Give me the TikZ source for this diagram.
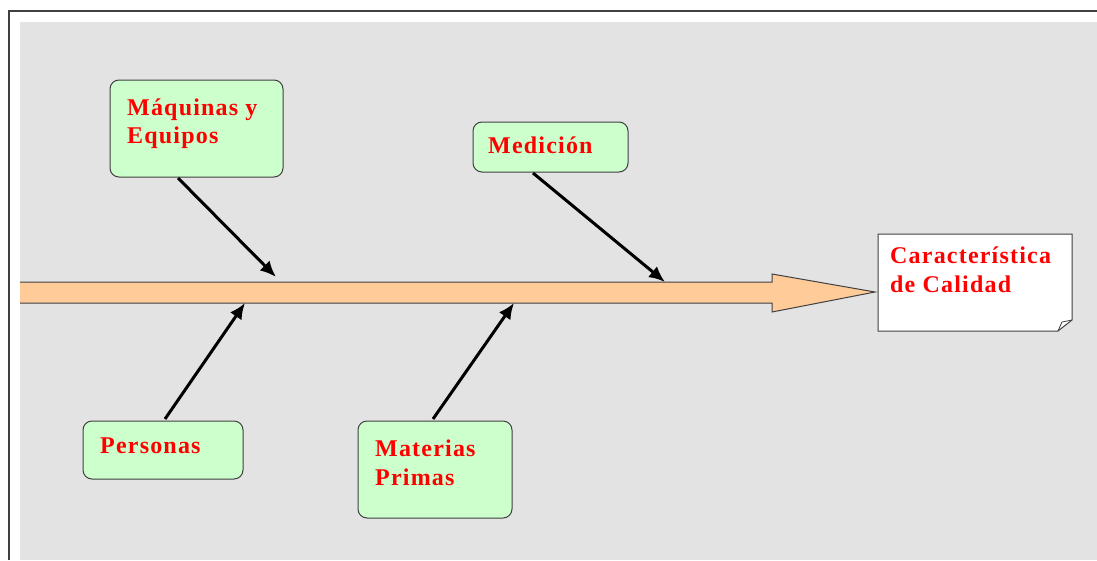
\documentclass[tikz,border=0pt]{standalone}
\usepackage{fontspec}
\setmainfont{Liberation Serif}
\newfontfamily\lblfont[LetterSpace=5]{Liberation Serif}
\definecolor{bggray}{HTML}{E3E3E3}
\definecolor{boxgreen}{HTML}{CCFFCC}
\definecolor{peach}{HTML}{FFCC99}
\definecolor{txtred}{HTML}{FF0000}
\definecolor{edgegray}{HTML}{404040}
\usetikzlibrary{arrows.meta}
\tikzset{
  causebox/.style={draw=edgegray, line width=1pt, fill=boxgreen, rounded corners=9pt},
  lbl/.style={anchor=base west, text=txtred, font=\lblfont\fontsize{24}{28}\selectfont\bfseries, inner sep=0pt},
  causearrow/.style={line width=3pt, -{Latex[length=16pt,width=14pt]}},
}
\begin{document}
\begin{tikzpicture}[x=1pt,y=-1pt]
\useasboundingbox (0,0) rectangle (1097,560);
\fill[white] (0,0) rectangle (1097,560);
% frame
\draw[line width=2pt, edgegray] (9,560) -- (9,11) -- (1097,11);
\fill[bggray] (20,22) rectangle (1097,560);
% main arrow
\draw[draw=edgegray, line width=1pt, fill=peach]
  (20,282) -- (772,282) -- (772,274) -- (875,292) -- (772,312) -- (772,303) -- (20,303);
% effect box with folded corner
\draw[edgegray, line width=1pt, fill=white]
  (878,234) -- (1072,234) -- (1072,320) -- (1058,331) -- (878,331) -- cycle;
\draw[edgegray, line width=0.8pt] (1058,331) -- (1062,322) -- (1072,320);
\node[lbl] (eff1) at (890,263) {Característica};
\node[lbl] (eff2) at (890,292) {de Calidad};
% cause boxes
\draw[causebox] (110,80) rectangle (283,177);
\node[lbl] (maq1) at (127,115) {Máquinas y};
\node[lbl] (maq2) at (127,143) {Equipos};
\coordinate (maq) at (178,178);
\draw[causebox] (473,122) rectangle (628,172);
\node[lbl] (med1) at (488,153) {Medición};
\coordinate (med) at (533,173);
\draw[causebox] (83,421) rectangle (243,479);
\node[lbl] (per1) at (100,453) {Personas};
\coordinate (per) at (165,419);
\draw[causebox] (358,421) rectangle (512,518);
\node[lbl] (mat1) at (375,456) {Materias};
\node[lbl] (mat2) at (375,485) {Primas};
\coordinate (mat) at (433,419);
% arrow targets on spine
\coordinate (t1) at (276,277);
\coordinate (t2) at (665,282);
\coordinate (t3) at (245,303);
\coordinate (t4) at (514,303);
\draw[causearrow] (maq) -- (t1);
\draw[causearrow] (med) -- (t2);
\draw[causearrow] (per) -- (t3);
\draw[causearrow] (mat) -- (t4);
\end{tikzpicture}
\end{document}
